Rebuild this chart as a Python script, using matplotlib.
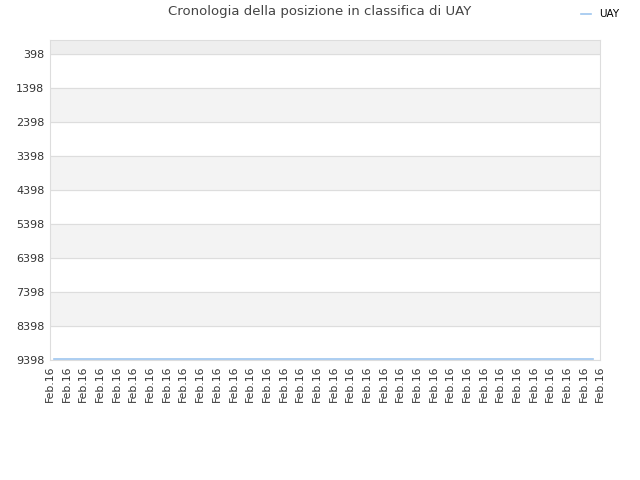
import numpy as np
import matplotlib
matplotlib.use("Agg")
import matplotlib.pyplot as plt

# dati: posizione in classifica di UAY
date_labels = ["Feb.16"] * 34
posizioni = [9398] * 34
yticks = [398, 1398, 2398, 3398, 4398, 5398, 6398, 7398, 8398, 9398]

plt.rcParams['font.family'] = ['DejaVu Sans']

fig = plt.figure(figsize=(6.4, 4.8), dpi=100)
ax = fig.add_axes([0.078, 0.25, 0.86, 0.667])

# bande alternate
ax.axhspan(-14, 398, color='#eeeeee', zorder=0)
for i in range(1, len(yticks) - 1, 2):
    ax.axhspan(yticks[i], yticks[i + 1], color='#f3f3f3', zorder=0)
for y in yticks:
    ax.axhline(y, color='#dddddd', lw=0.8, zorder=1)

x = np.arange(len(posizioni))
ax.plot(x * 0.98 + 0.24, np.array(posizioni) - 30, color='#9ec6ef', lw=1.2, label='UAY', zorder=3)

ax.set_xlim(0, 33)
ax.set_ylim(9398, -14)
ax.set_xticks(x)
ax.set_xticklabels(date_labels, rotation=90, fontsize=7.8, color='#333333')
ax.set_yticks(yticks)
ax.set_yticklabels([str(v) for v in yticks], fontsize=8, color='#333333')
ax.tick_params(length=0, pad=4)
for s in ax.spines.values():
    s.set_color('#dddddd')

fig.suptitle("Cronologia della posizione in classifica di UAY", fontsize=9.5, color='#444444', y=0.99)
fig.legend(loc='upper right', bbox_to_anchor=(0.983, 1.0), frameon=False, fontsize=7.5,
           handlelength=1.0, handletextpad=0.8)

fig.savefig("out.png", dpi=100)
